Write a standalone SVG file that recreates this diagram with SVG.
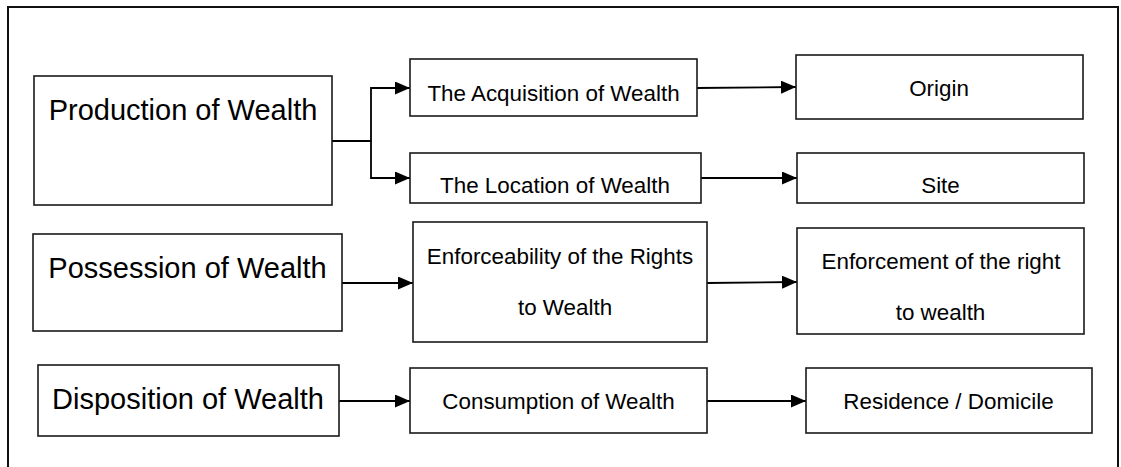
<svg xmlns="http://www.w3.org/2000/svg" width="1121" height="467" viewBox="0 0 1121 467">
  <style>
    .box { fill: #ffffff; stroke: #1a1a1a; stroke-width: 1.6; }
    .big { font-family: "Liberation Sans", Arial, sans-serif; font-size: 29px; fill: #000; }
    .txt { font-family: "Liberation Sans", Arial, sans-serif; font-size: 22.4px; fill: #000; }
    .conn { fill: none; stroke: #000; stroke-width: 1.8; }
  </style>
  <defs>
    <marker id="arrow" markerUnits="userSpaceOnUse" markerWidth="15" markerHeight="13" refX="15" refY="6.5" orient="auto">
      <path d="M0,0 L15,6.5 L0,13 z" fill="#000"/>
    </marker>
  </defs>
  <rect x="0" y="0" width="1121" height="467" fill="#ffffff"/>
  <g id="frame">
    <rect x="8" y="7" width="1110" height="520" fill="none" stroke="#111" stroke-width="2"/>
  </g>

  <g id="connectors">
    <path class="conn" d="M332,141 H371 V88 H410" marker-end="url(#arrow)"/>
    <path class="conn" d="M371,141 V178 H410" marker-end="url(#arrow)"/>
    <path class="conn" d="M697,88 L796,87" marker-end="url(#arrow)"/>
    <path class="conn" d="M701,178 L797,178" marker-end="url(#arrow)"/>
    <path class="conn" d="M342,283 L413,283" marker-end="url(#arrow)"/>
    <path class="conn" d="M707,283 L797,282" marker-end="url(#arrow)"/>
    <path class="conn" d="M339,401 L410,401" marker-end="url(#arrow)"/>
    <path class="conn" d="M707,401 L806,401" marker-end="url(#arrow)"/>
  </g>

  <g id="production">
    <rect class="box" x="34" y="76" width="298" height="129"/>
    <text class="big" x="183" y="120" text-anchor="middle">Production of Wealth</text>
  </g>
  <g id="acquisition">
    <rect class="box" x="410" y="59" width="287" height="57"/>
    <text class="txt" x="553.5" y="101" text-anchor="middle">The Acquisition of Wealth</text>
  </g>
  <g id="location">
    <rect class="box" x="410" y="153" width="291" height="50"/>
    <text class="txt" x="555" y="193" text-anchor="middle">The Location of Wealth</text>
  </g>
  <g id="origin">
    <rect class="box" x="796" y="55" width="287" height="64"/>
    <text class="txt" x="939" y="96" text-anchor="middle">Origin</text>
  </g>
  <g id="site">
    <rect class="box" x="797" y="153" width="287" height="50"/>
    <text class="txt" x="940.5" y="193" text-anchor="middle">Site</text>
  </g>
  <g id="possession">
    <rect class="box" x="33" y="234" width="309" height="97"/>
    <text class="big" x="187.5" y="278" text-anchor="middle">Possession of Wealth</text>
  </g>
  <g id="enforceability">
    <rect class="box" x="413" y="222" width="294" height="120"/>
    <text class="txt" x="560" y="264" text-anchor="middle">Enforceability of the Rights</text>
    <text class="txt" x="565" y="315" text-anchor="middle">to Wealth</text>
  </g>
  <g id="enforcement">
    <rect class="box" x="797" y="228" width="287" height="106"/>
    <text class="txt" x="941" y="269" text-anchor="middle">Enforcement of the right</text>
    <text class="txt" x="940.5" y="320" text-anchor="middle">to wealth</text>
  </g>
  <g id="disposition">
    <rect class="box" x="38" y="365" width="301" height="71"/>
    <text class="big" x="188" y="409" text-anchor="middle">Disposition of Wealth</text>
  </g>
  <g id="consumption">
    <rect class="box" x="410" y="368" width="297" height="65"/>
    <text class="txt" x="558.5" y="409" text-anchor="middle">Consumption of Wealth</text>
  </g>
  <g id="residence">
    <rect class="box" x="806" y="368" width="286" height="65"/>
    <text class="txt" x="948.5" y="409" text-anchor="middle">Residence / Domicile</text>
  </g>
</svg>
